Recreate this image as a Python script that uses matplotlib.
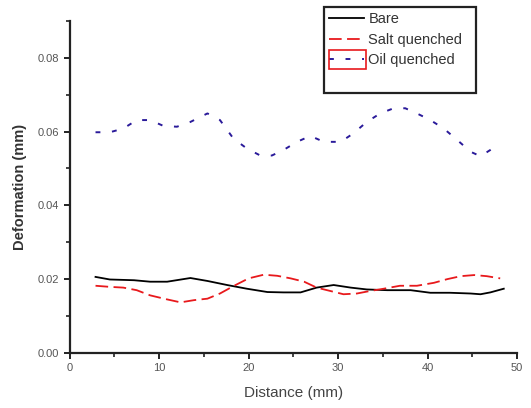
import matplotlib
matplotlib.use("Agg")
import matplotlib.pyplot as plt
from matplotlib.patches import Rectangle
from matplotlib.lines import Line2D
from matplotlib.ticker import MultipleLocator

# values
bare_x = [2.9, 4.5, 7.2, 9.0, 10.9, 13.5, 15.4, 17.6, 19.8, 22.1, 23.9, 25.8, 27.6, 29.5,
          31.4, 33.2, 35.5, 38.1, 40.3, 42.5, 44.8, 45.9, 47.0, 48.5]
bare_y = [0.0206, 0.0199, 0.0197, 0.0193, 0.0193, 0.0203, 0.0195, 0.0184, 0.0174, 0.0165,
          0.0164, 0.0164, 0.0177, 0.0184, 0.0177, 0.0172, 0.0170, 0.0170, 0.0163, 0.0163,
          0.0161, 0.0159, 0.0164, 0.0174]

salt_x = [2.9, 4.5, 6.0, 7.5, 9.0, 10.9, 12.4, 13.9, 15.4, 16.8, 18.3, 20.0, 21.7, 23.2,
          24.7, 26.2, 27.6, 29.1, 30.6, 32.1, 33.6, 35.1, 36.9, 38.8, 40.7, 42.2, 43.7,
          45.2, 46.6, 48.1]
salt_y = [0.0182, 0.0179, 0.0177, 0.0170, 0.0156, 0.0145, 0.0137, 0.0143, 0.0147, 0.0161,
          0.0181, 0.0202, 0.0212, 0.0209, 0.0202, 0.0193, 0.0177, 0.0168, 0.0159, 0.0161,
          0.0168, 0.0174, 0.0182, 0.0182, 0.0190, 0.0200, 0.0208, 0.0211, 0.0208, 0.0202]

oil_x = [2.9, 4.5, 6.0, 7.5, 9.0, 10.5, 12.0, 13.5, 15.4, 16.8, 18.3, 19.8, 21.3, 22.6,
         23.9, 25.4, 26.9, 28.4, 30.3, 31.7, 33.2, 34.7, 36.2, 37.5, 38.8, 40.3, 41.8,
         43.3, 44.8, 45.9, 47.0, 48.0]
oil_y = [0.0598, 0.0598, 0.0608, 0.0631, 0.0631, 0.0615, 0.0613, 0.0626, 0.0649, 0.0631,
         0.0581, 0.0554, 0.0535, 0.0535, 0.0550, 0.0572, 0.0588, 0.0572, 0.0572, 0.0595,
         0.0626, 0.0649, 0.0663, 0.0663, 0.0649, 0.0631, 0.0608, 0.0577, 0.0545, 0.0533,
         0.0550, 0.0568]

plt.rcParams['font.family'] = ['Liberation Sans', 'DejaVu Sans']

fig = plt.figure(figsize=(5.31, 4.08), dpi=100)
ax = fig.add_axes([0.131, 0.135, 0.843, 0.814])

l1, = ax.plot(bare_x, bare_y, color='black', lw=1.3, label='Bare')
l2, = ax.plot(salt_x, salt_y, color='#e8191c', lw=1.3, dashes=(7, 3), label='Salt quenched')
l3, = ax.plot(oil_x, oil_y, color='#2a1a9a', lw=1.4, dashes=(2.5, 6), label='Oil quenched')

ax.set_xlim(0, 50)
ax.set_ylim(0, 0.09)
ax.xaxis.set_major_locator(MultipleLocator(10))
ax.xaxis.set_minor_locator(MultipleLocator(5))
ax.yaxis.set_major_locator(MultipleLocator(0.02))
ax.yaxis.set_minor_locator(MultipleLocator(0.01))
ax.yaxis.set_major_formatter(matplotlib.ticker.FormatStrFormatter('%.2f'))

for s in ['top', 'right']:
    ax.spines[s].set_visible(False)
for s in ['left', 'bottom']:
    ax.spines[s].set_linewidth(1.6)
    ax.spines[s].set_color('#222222')
ax.tick_params(which='major', length=4, width=1.4, labelsize=8, colors='#222222',
               labelcolor='#555555')
ax.tick_params(which='minor', length=3, width=1.2, colors='#222222')

ax.set_xlabel('Distance (mm)', fontsize=11, color='#444444', labelpad=9)
ax.set_ylabel('Deformation (mm)', fontsize=10.5, color='#333333', fontweight='bold',
              labelpad=8)

blank = Line2D([], [], color='none')
leg = fig.legend([l1, l2, l3, blank], ['Bare', 'Salt quenched', 'Oil quenched', ' '],
                 loc='upper left', mode='expand',
                 bbox_to_anchor=(324 / 531, 1 - 90 / 408, 152 / 531, 83 / 408),
                 bbox_transform=fig.transFigure, fontsize=10.5, frameon=True,
                 fancybox=False, handlelength=2.4, handletextpad=0.3, framealpha=1,
                 borderpad=0.35, labelspacing=0.45, borderaxespad=0)
leg.get_frame().set_edgecolor('#222222')
leg.get_frame().set_linewidth(1.6)
for t in leg.get_texts():
    t.set_color('#333333')

# red marker box around the oil quenched legend handle
fig.patches.append(Rectangle((329 / 531, 1 - 69 / 408), 37 / 531, 19 / 408,
                             transform=fig.transFigure, fill=False, zorder=20,
                             edgecolor='#e8191c', lw=1.2))

fig.savefig('out.png', dpi=100)
